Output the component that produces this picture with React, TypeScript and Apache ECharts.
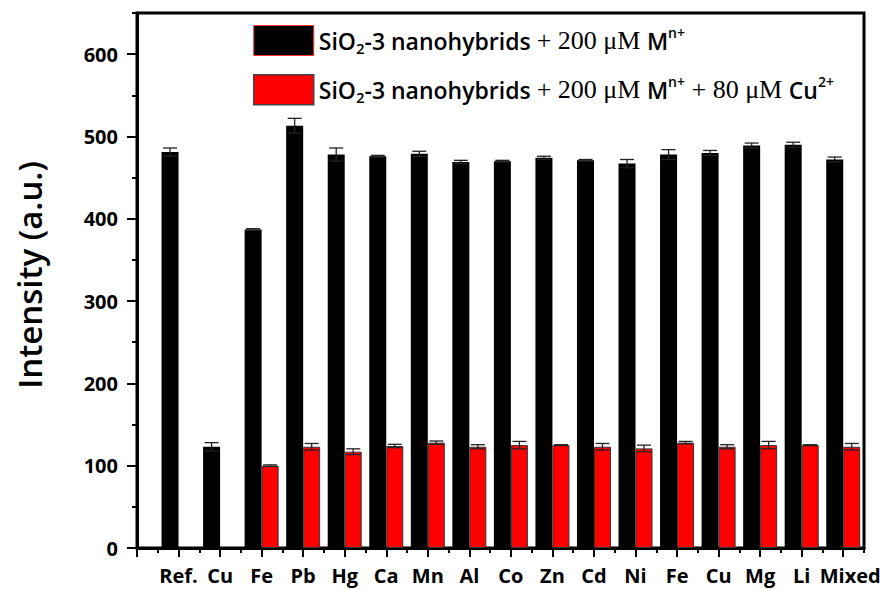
import React, { useEffect, useRef } from "react";
import * as echarts from "echarts";

const categories = ["Ref.", "Cu", "Fe", "Pb", "Hg", "Ca", "Mn", "Al", "Co", "Zn", "Cd", "Ni", "Fe", "Cu", "Mg", "Li", "Mixed"];
const blackValues = [481, 123, 387, 513, 478, 476, 479, 469, 470, 474, 471, 467, 478, 480, 489, 490, 472];
const blackErrors = [5, 5, 1, 9, 8, 1, 3, 2, 1, 2, 1, 5, 6, 3, 3, 3, 3];
const redValues: (number | null)[] = [null, null, 100, 123, 117, 124, 128, 123, 125, 125, 123, 121, 128, 123, 125, 125, 123];
const redErrors: (number | null)[] = [null, null, 1, 4, 3.5, 2, 2, 2.5, 4.5, 0.5, 4, 4, 1.5, 2.5, 4.5, 0.5, 4];
const yMajorTicks = [0, 100, 200, 300, 400, 500, 600];
const seriesNames = [
  "SiO2-3 nanohybrids + 200 μM Mn+",
  "SiO2-3 nanohybrids + 200 μM Mn+ + 80 μM Cu2+",
];

const SANS = "'Open Sans', sans-serif";
const SERIF = "'Liberation Serif', serif";
const BAR_W = 17;
const X_MAX = categories.length + 0.5;
const Y_MAX = 650;

export default function App() {
  const ref = useRef<HTMLDivElement>(null);
  useEffect(() => {
    if (!ref.current) return;
    const chart = echarts.init(ref.current, null, { renderer: "svg" });

    const xMajorTicks = Array.from({ length: categories.length + 1 }, (_, i) => i);
    const xLabelValues = categories.map((_, i) => i + 1);
    const blackData = blackValues.map((v, i) => [i + 1, v]);
    const redData = redValues
      .map((v, i) => (v == null ? null : [i + 1, v]))
      .filter((d) => d !== null);
    const errData: number[][] = [];
    blackValues.forEach((v, i) => errData.push([i + 1, v, blackErrors[i], -1]));
    redValues.forEach((v, i) => {
      if (v != null) errData.push([i + 1, v, redErrors[i] as number, 1]);
    });

    const tickLine = { color: "#000", width: 2 };
    const labelStyle = { fontFamily: SANS, fontWeight: "bold" as const, fontSize: 20, color: "#000" };

    const rich = {
      s: { fontFamily: SANS, fontWeight: 600, fontSize: 23, lineHeight: 30, color: "#000" },
      sub: { fontFamily: SANS, fontWeight: 600, fontSize: 15, lineHeight: 8, verticalAlign: "bottom", color: "#000" },
      r: { fontFamily: SERIF, fontSize: 26, lineHeight: 30, color: "#000" },
      sup: { fontFamily: SANS, fontWeight: 600, fontSize: 14, lineHeight: 12, verticalAlign: "top", color: "#000" },
    };
    const legendText1 = "{s|SiO}{sub|2}{s|-3 nanohybrids }{r|+ 200 μM }{s|M}{sup|n+}";
    const legendText2 = "{s|SiO}{sub|2}{s|-3 nanohybrids }{r|+ 200 μM }{s|M}{sup|n+}{r| + 80 μM }{s|Cu}{sup|2+}";

    chart.setOption({
      animation: false,
      backgroundColor: "#fff",
      grid: { left: 137, right: 24, top: 13, bottom: 42, show: true, borderColor: "#000", borderWidth: 3 },
      legend: {
        orient: "vertical",
        left: 253,
        top: 25,
        padding: 0,
        itemWidth: 60,
        itemHeight: 30,
        itemGap: 18,
        icon: "rect",
        selectedMode: false,
        data: [
          { name: seriesNames[0], itemStyle: { borderColor: "#ff3030", borderWidth: 1 } },
          { name: seriesNames[1], itemStyle: { borderColor: "#444", borderWidth: 1.5 } },
        ],
        formatter: (name: string) => (name === seriesNames[0] ? legendText1 : legendText2),
        textStyle: { rich },
      },
      xAxis: [
        {
          type: "value",
          min: 0,
          max: X_MAX,
          position: "bottom",
          axisLine: { show: true, lineStyle: { color: "#000", width: 3 } },
          axisTick: { show: true, length: 9, lineStyle: tickLine, customValues: xMajorTicks },
          axisLabel: {
            ...labelStyle,
            margin: 17,
            customValues: xLabelValues,
            formatter: (v: number) => {
              const i = Math.round(v) - 1;
              const t = categories[i] ?? "";
              return i === categories.length - 1 ? "{last|" + t + "}" : t;
            },
            rich: { last: { ...labelStyle, padding: [0, 0, 0, 14] } },
          },
          splitLine: { show: false },
        },
        {
          type: "value",
          min: 0,
          max: X_MAX,
          interval: 0.5,
          position: "bottom",
          axisLine: { show: false },
          axisTick: { show: true, length: 5, lineStyle: tickLine },
          axisLabel: { show: false },
          splitLine: { show: false },
        },
      ],
      yAxis: [
        {
          type: "value",
          min: 0,
          max: Y_MAX,
          position: "left",
          axisLine: { show: true, lineStyle: { color: "#000", width: 3 } },
          axisTick: { show: true, length: 10, lineStyle: tickLine, customValues: yMajorTicks },
          axisLabel: { ...labelStyle, fontSize: 20, margin: 19, customValues: yMajorTicks },
          splitLine: { show: false },
        },
        {
          type: "value",
          min: 0,
          max: Y_MAX,
          interval: 50,
          position: "left",
          axisLine: { show: false },
          axisTick: { show: true, length: 5, lineStyle: tickLine },
          axisLabel: { show: false },
          splitLine: { show: false },
        },
      ],
      graphic: [
        {
          type: "text",
          x: 29,
          y: 275,
          rotation: Math.PI / 2,
          style: {
            text: "Intensity (a.u.)",
            fontFamily: SANS,
            fontWeight: 600,
            fontSize: 33,
            fill: "#000",
            align: "center",
            verticalAlign: "middle",
          },
        },
      ],
      series: [
        {
          name: seriesNames[0],
          type: "bar",
          xAxisIndex: 0,
          yAxisIndex: 0,
          barWidth: BAR_W,
          barGap: "0%",
          data: blackData,
          itemStyle: { color: "#000" },
        },
        {
          name: seriesNames[1],
          type: "bar",
          xAxisIndex: 0,
          yAxisIndex: 0,
          barWidth: BAR_W,
          barGap: "0%",
          data: redData,
          itemStyle: { color: "#ff0000", borderColor: "#333", borderWidth: 1 },
        },
        {
          name: "errors",
          type: "custom",
          xAxisIndex: 0,
          yAxisIndex: 0,
          z: 5,
          silent: true,
          encode: { x: 0, y: 1 },
          data: errData,
          renderItem: (_params: any, api: any) => {
            const x = api.value(0);
            const v = api.value(1);
            const e = api.value(2);
            const side = api.value(3);
            const hi = api.coord([x, v + e]);
            const lo = api.coord([x, v - e]);
            const cx = hi[0] + (side * BAR_W) / 2;
            const half = 7;
            const st = { stroke: "#222", lineWidth: 1.3 };
            return {
              type: "group",
              children: [
                { type: "line", shape: { x1: cx, y1: hi[1], x2: cx, y2: lo[1] }, style: st },
                { type: "line", shape: { x1: cx - half, y1: hi[1], x2: cx + half, y2: hi[1] }, style: st },
                { type: "line", shape: { x1: cx - half, y1: lo[1], x2: cx + half, y2: lo[1] }, style: st },
              ],
            };
          },
        },
      ],
    });
    return () => chart.dispose();
  }, []);
  return <div ref={ref} style={{ position: "absolute", left: 0, top: 0, width: 888, height: 590 }} />;
}
